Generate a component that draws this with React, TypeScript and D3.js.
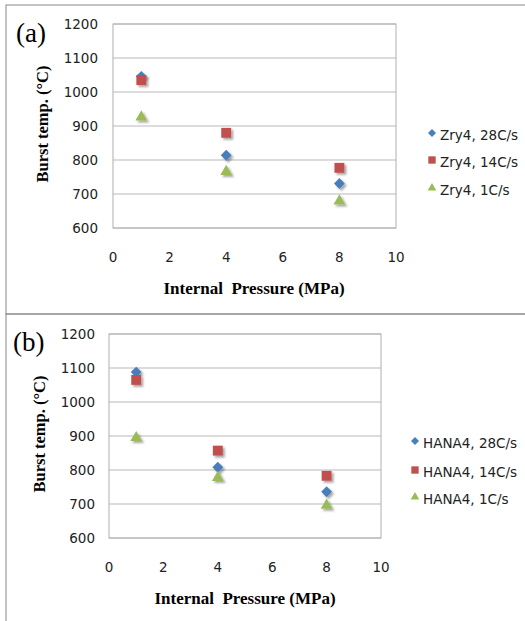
import React, { useRef, useEffect } from "react";
import * as d3 from "d3";

// internal pressure (MPa)
const pressures = [1, 4, 8];

// panel (a) Zry4 burst temperatures
const zry4_28 = [1046, 814, 731];
const zry4_14 = [1035, 880, 777];
const zry4_1 = [926, 766, 679];

// panel (b) HANA4 burst temperatures
const hana4_28 = [1088, 808, 736];
const hana4_14 = [1065, 857, 783];
const hana4_1 = [895, 778, 696];

const xTicks = [0, 2, 4, 6, 8, 10];
const yTicks = [600, 700, 800, 900, 1000, 1100, 1200];

const colors = { d28: "#4A7EBB", d14: "#C0504D", d1: "#9BBB59" };

type Series = { name: string; values: number[]; shape: string; color: string };

type PanelProps = {
  top: number;
  left: number;
  right: number;
  bottom: number;
  label: string;
  labelX: number;
  labelY: number;
  tickRight: number;
  legendX: number;
  legendY: number[];
  xTitleX: number;
  yTitleX: number;
  series: Series[];
};

const Panel = (p: PanelProps) => {
  const ref = useRef<SVGGElement>(null);

  useEffect(() => {
    const g = d3.select(ref.current);
    g.selectAll("*").remove();

    const x = d3.scaleLinear().domain([0, 10]).range([p.left, p.right]);
    const y = d3.scaleLinear().domain([600, 1200]).range([p.bottom, p.top]);

    // gridlines
    g.selectAll(".grid")
      .data(yTicks)
      .enter()
      .append("line")
      .attr("x1", p.left)
      .attr("x2", p.right)
      .attr("y1", (d) => y(d))
      .attr("y2", (d) => y(d))
      .attr("stroke", "#b9b9b9")
      .attr("stroke-width", 1);

    g.append("rect")
      .attr("x", p.left)
      .attr("y", p.top)
      .attr("width", p.right - p.left)
      .attr("height", p.bottom - p.top)
      .attr("fill", "none")
      .attr("stroke", "#b0b0b0");

    g.selectAll(".ytick")
      .data(yTicks)
      .enter()
      .append("text")
      .attr("x", p.tickRight)
      .attr("y", (d) => y(d) + 5)
      .attr("text-anchor", "end")
      .attr("font-family", "DejaVu Sans")
      .attr("font-size", 13.5)
      .attr("fill", "#222")
      .text((d) => d);

    g.selectAll(".xtick")
      .data(xTicks)
      .enter()
      .append("text")
      .attr("x", (d) => x(d))
      .attr("y", p.bottom + 34)
      .attr("text-anchor", "middle")
      .attr("font-family", "DejaVu Sans")
      .attr("font-size", 13.5)
      .attr("fill", "#222")
      .text((d) => d);

    g.append("text")
      .attr("x", p.xTitleX)
      .attr("y", p.bottom + 66)
      .attr("text-anchor", "middle")
      .attr("font-family", "Liberation Serif")
      .attr("font-weight", "bold")
      .attr("font-size", 17)
      .attr("xml:space", "preserve")
      .text("Internal  Pressure (MPa)");

    g.append("text")
      .attr("transform", `translate(${p.yTitleX},${(p.top + p.bottom) / 2 - 2}) rotate(-90)`)
      .attr("text-anchor", "middle")
      .attr("font-family", "Liberation Serif")
      .attr("font-weight", "bold")
      .attr("font-size", 16.5)
      .text("Burst temp. (°C)");

    g.append("text")
      .attr("x", p.labelX)
      .attr("y", p.labelY)
      .attr("font-family", "Liberation Serif")
      .attr("font-size", 27)
      .text(p.label);

    const symbolOf = (s: string) =>
      s === "diamond" ? d3.symbolDiamond2 : s === "square" ? d3.symbolSquare2 : d3.symbolTriangle2;
    const sizeOf = (s: string) => (s === "diamond" ? 75 : s === "square" ? 125 : 100);

    p.series.forEach((s) => {
      const sym = d3.symbol().type(symbolOf(s.shape)).size(sizeOf(s.shape));
      g.selectAll(null)
        .data(s.values)
        .enter()
        .append("path")
        .attr("d", sym)
        .attr("transform", (d, i) => `translate(${x(pressures[i])},${y(d)})`)
        .attr("fill", s.color)
        .attr("filter", "url(#shadow)");
    });

    // legend
    p.series.forEach((s, i) => {
      const small = d3.symbol().type(symbolOf(s.shape)).size(sizeOf(s.shape) * 0.55);
      g.append("path")
        .attr("d", small)
        .attr("transform", `translate(${p.legendX},${p.legendY[i] - 2})`)
        .attr("fill", s.color);
      g.append("text")
        .attr("x", p.legendX + 8)
        .attr("y", p.legendY[i] + 5)
        .attr("font-family", "DejaVu Sans")
        .attr("font-size", 13.5)
        .attr("fill", "#222")
        .text(s.name);
    });
  }, []);

  return <g ref={ref}></g>;
};

const App = () => {
  return (
    <svg
      width={525}
      height={621}
      style={{ position: "absolute", left: 0, top: 0, background: "#fff" }}
    >
      <defs>
        <filter id="shadow" x="-50%" y="-50%" width="200%" height="200%">
          <feDropShadow dx="2" dy="2" stdDeviation="1.2" floodColor="#000" floodOpacity="0.35" />
        </filter>
      </defs>
      <rect x={6} y={5} width={530} height={309} fill="none" stroke="#888" />
      <rect x={6} y={314} width={530} height={320} fill="none" stroke="#888" />
      <Panel
        top={24}
        bottom={228}
        left={113}
        right={396}
        label="(a)"
        labelX={16}
        labelY={42}
        tickRight={98}
        legendX={432}
        legendY={[135, 162, 190]}
        xTitleX={254}
        yTitleX={48}
        series={[
          { name: "Zry4, 28C/s", values: zry4_28, shape: "diamond", color: colors.d28 },
          { name: "Zry4, 14C/s", values: zry4_14, shape: "square", color: colors.d14 },
          { name: "Zry4, 1C/s", values: zry4_1, shape: "triangle", color: colors.d1 },
        ]}
      />
      <Panel
        top={334}
        bottom={538}
        left={109}
        right={381}
        label="(b)"
        labelX={13}
        labelY={351}
        tickRight={95}
        legendX={415}
        legendY={[443, 472, 499]}
        xTitleX={245}
        yTitleX={45}
        series={[
          { name: "HANA4, 28C/s", values: hana4_28, shape: "diamond", color: colors.d28 },
          { name: "HANA4, 14C/s", values: hana4_14, shape: "square", color: colors.d14 },
          { name: "HANA4, 1C/s", values: hana4_1, shape: "triangle", color: colors.d1 },
        ]}
      />
    </svg>
  );
};

export default App;
